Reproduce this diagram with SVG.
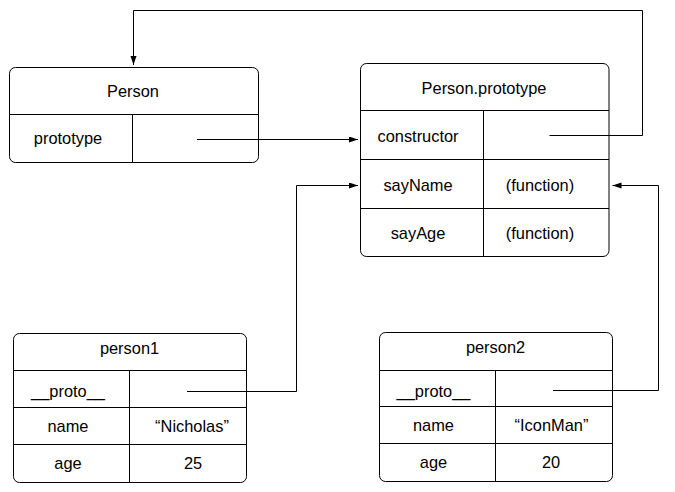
<svg xmlns="http://www.w3.org/2000/svg" width="675" height="492" viewBox="0 0 675 492">
<defs>
<style>
.box{fill:#fff;stroke:#000;stroke-width:1}
.ln{fill:none;stroke:#000;stroke-width:1}
.t{font-family:"Liberation Sans",Arial,sans-serif;font-size:16.4px;fill:#000;text-anchor:middle}
.c{fill:none;stroke:#000;stroke-width:1}
</style>
<marker id="ah" markerUnits="userSpaceOnUse" markerWidth="10" markerHeight="8" refX="9" refY="3" orient="auto">
<path d="M0,0 L9,3 L0,6 z" fill="#000"/>
</marker>
</defs>
<rect width="675" height="492" fill="#fff"/>
<g id="Person">
<rect class="box" x="9.5" y="67.5" width="249" height="95" rx="6"/>
<path class="ln" d="M9.5,114.5 H258.5 M132.5,114.5 V162.5"/>
<text class="t" x="133" y="96.5">Person</text>
<text class="t" x="68" y="144">prototype</text>
</g>
<g id="PersonPrototype">
<rect class="box" x="360.5" y="63.5" width="248.5" height="193" rx="6"/>
<path class="ln" d="M360.5,110.5 H609 M360.5,159.5 H609 M360.5,208.5 H609 M483.5,110.5 V256.5"/>
<text class="t" x="484" y="93.5">Person.prototype</text>
<text class="t" x="418" y="141.5">constructor</text>
<text class="t" x="418" y="190.5">sayName</text>
<text class="t" x="540" y="190.5">(function)</text>
<text class="t" x="418" y="239">sayAge</text>
<text class="t" x="540" y="239">(function)</text>
</g>
<g id="person1">
<rect class="box" x="13.5" y="333.5" width="233" height="149" rx="6"/>
<path class="ln" d="M13.5,370.5 H246.5 M13.5,407.5 H246.5 M13.5,444.5 H246.5 M129.5,370.5 V482.5"/>
<text class="t" x="129.5" y="353.5">person1</text>
<text class="t" x="68" y="397">__proto__</text>
<text class="t" x="68" y="431.5">name</text>
<text class="t" x="68" y="468.5">age</text>
<text class="t" x="192" y="431.5">“Nicholas”</text>
<text class="t" x="193" y="468.5">25</text>
</g>
<g id="person2">
<rect class="box" x="379.5" y="332.5" width="233" height="149" rx="6"/>
<path class="ln" d="M379.5,370.5 H612.5 M379.5,406.5 H612.5 M379.5,443.5 H612.5 M495.5,370.5 V481.5"/>
<text class="t" x="495.5" y="352.5">person2</text>
<text class="t" x="433.5" y="397">__proto__</text>
<text class="t" x="433.5" y="431">name</text>
<text class="t" x="433.5" y="468">age</text>
<text class="t" x="551.5" y="431">“IconMan”</text>
<text class="t" x="551" y="468">20</text>
</g>
<g id="connectors">
<path class="c" d="M549.5,135.5 H642.5 V10.5 H133.5 V65" marker-end="url(#ah)"/>
<path class="c" d="M197,139.5 H358" marker-end="url(#ah)"/>
<path class="c" d="M187,391.5 H296.5 V185.5 H358" marker-end="url(#ah)"/>
<path class="c" d="M553,390.5 H658.5 V185.5 H612.5" marker-end="url(#ah)"/>
</g>
</svg>
